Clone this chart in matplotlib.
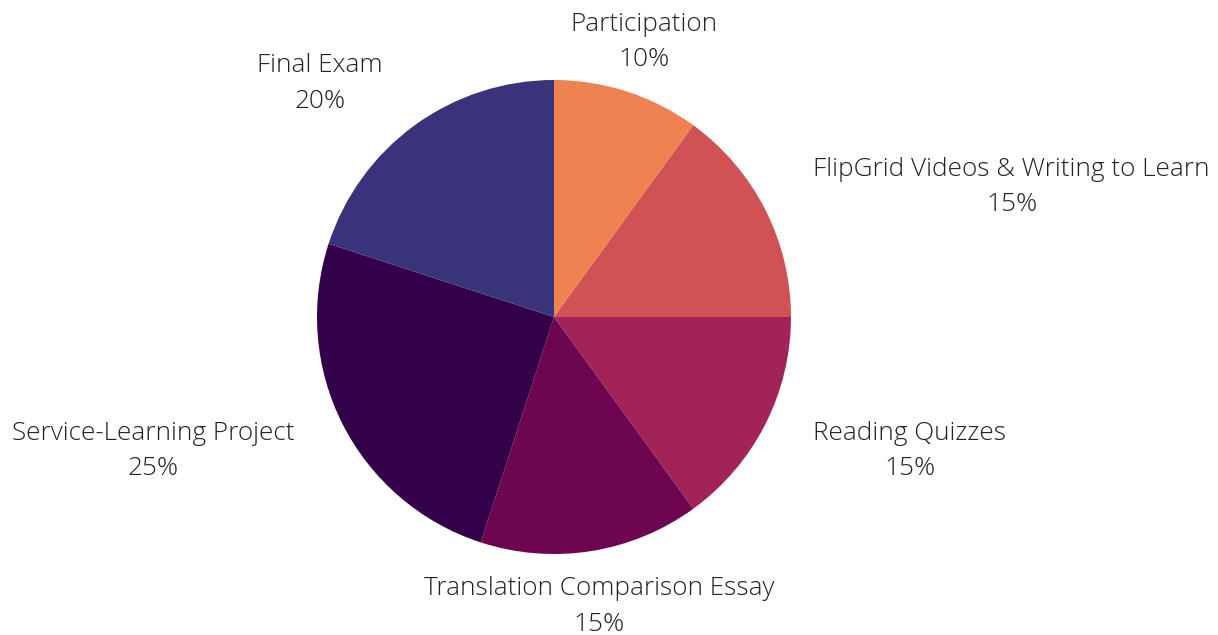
import numpy as np
import matplotlib
matplotlib.use('Agg')
import matplotlib.pyplot as plt

### Data
categories = ['Participation', 'FlipGrid Videos & Writing to Learn', 'Reading Quizzes',
              'Translation Comparison Essay', 'Service-Learning Project', 'Final Exam']
shares = [10, 15, 15, 15, 25, 20]
colors = ['#EE8250', '#D05254', '#A12357', '#6D0551', '#33004A', '#38337A']

plt.rcParams['font.family'] = ['Open Sans', 'DejaVu Sans']

W, H = 1218, 635
cx, cy, r = 554, 317, 237
fig = plt.figure(figsize=(W / 100, H / 100), dpi=100)
ax = fig.add_axes([(cx - r) / W, (H - cy - r) / H, 2 * r / W, 2 * r / H])

labels = ['{}\n{}%'.format(c, s) for c, s in zip(categories, shares)]
wedges, texts = ax.pie(shares, labels=labels, colors=colors, startangle=90,
                       counterclock=False, labeldistance=1.228,
                       textprops=dict(fontsize=18.8, color='#222222', fontweight='light',
                                      linespacing=1.55))

# align labels: centred near the top/bottom, left/right elsewhere
for w, t in zip(wedges, texts):
    ang = np.deg2rad((w.theta1 + w.theta2) / 2)
    t.set_multialignment('center')
    t.set_va('center')
    x0, y0 = t.get_position()
    t.set_position((x0, y0 - 2.0 / r))  # small nudge down
    if abs(np.cos(ang)) < 0.4:
        t.set_ha('center')
    elif np.cos(ang) > 0:
        t.set_ha('left')
    else:
        t.set_ha('right')

ax.set_xlim(-1, 1)
ax.set_ylim(-1, 1)
ax.set_aspect('equal')
ax.axis('off')

fig.savefig('out.png', dpi=100, facecolor='white')
